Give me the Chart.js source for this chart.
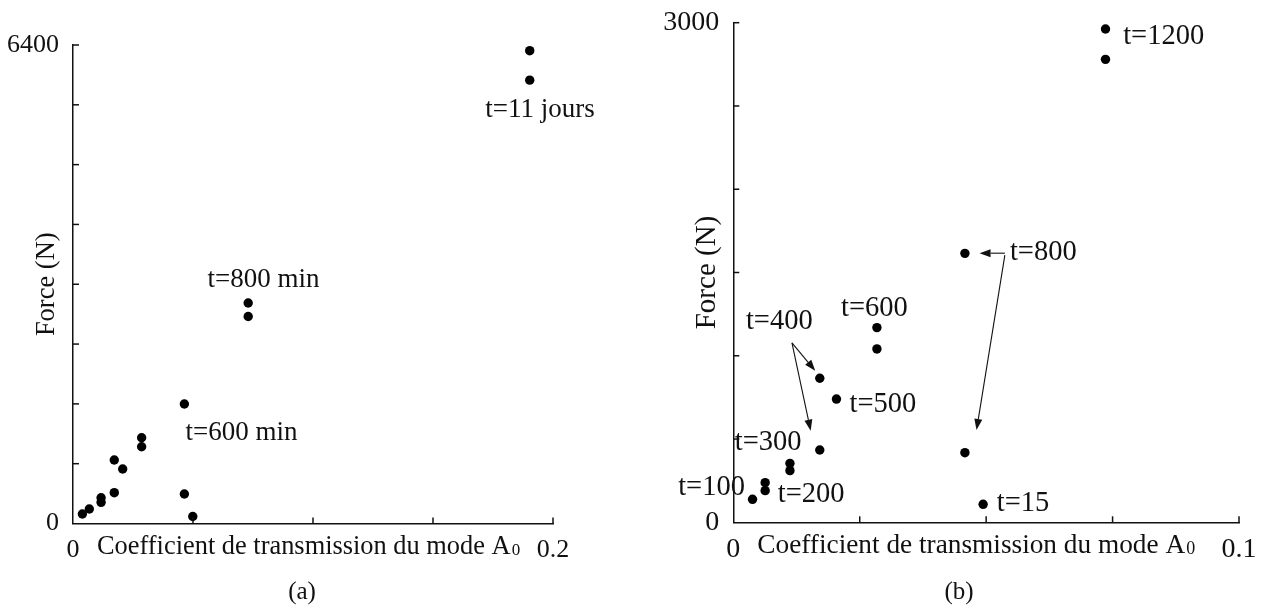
<!DOCTYPE html>
<html><head><meta charset="utf-8">
<script src="https://cdn.jsdelivr.net/npm/chart.js@4.4.1/dist/chart.umd.min.js"></script>
<style>
html,body{margin:0;padding:0;background:#fff;}
#wrap{position:relative;width:1263px;height:609px;overflow:hidden;background:#fff;}
canvas{position:absolute;top:0;}
#ca{left:0;} #cb{left:630px;}
.cap{position:absolute;font-family:'Liberation Serif',serif;font-size:25px;color:#111;width:80px;text-align:center;line-height:30px;top:576px;}
</style></head><body>
<div id="wrap">
<canvas id="ca" width="630" height="609"></canvas>
<canvas id="cb" width="633" height="609"></canvas>
<div class="cap" style="left:262px">(a)</div>
<div class="cap" style="left:919px">(b)</div>
</div>
<script>
// ---------- data: panel (a) ----------
const coefA  = [0.0039, 0.0068, 0.0117, 0.0117, 0.0172, 0.0172, 0.0207, 0.0286, 0.0286, 0.0464, 0.0464, 0.0499, 0.0730, 0.0730, 0.1903, 0.1903];
const forceA = [127, 194, 345, 283, 412, 849, 729, 1147, 1027, 1598, 394, 94, 2949, 2768, 6324, 5930];
const xTickValsA = [0, 0.2];
const xTickLabelsA = ['0', '0.2'];
const yTickValsA = [0, 6400];
const yTickLabelsA = ['0', '6400'];
const notesA = ['t=11 jours', 't=800 min', 't=600 min'];
const notesAtA = [[0.1718, 5535], [0.0560, 3261], [0.0469, 1210]];

// ---------- data: panel (b) ----------
const coefB  = [0.0038, 0.0063, 0.0063, 0.0112, 0.0112, 0.0171, 0.0171, 0.0204, 0.0284, 0.0284, 0.0458, 0.0458, 0.0494, 0.0736, 0.0736];
const forceB = [138, 238, 190, 354, 310, 434, 865, 740, 1169, 1041, 1615, 418, 108, 2962, 2780];
const xTickValsB = [0, 0.1];
const xTickLabelsB = ['0', '0.1'];
const yTickValsB = [0, 3000];
const yTickLabelsB = ['0', '3000'];
const notesB = ['t=1200', 't=800', 't=600', 't=400', 't=500', 't=300', 't=200', 't=100', 't=15'];
const notesAtB = [[0.0771, 2915], [0.0547, 1619], [0.0213, 1281], [0.0025, 1205], [0.0230, 710], [0.0003, 482], [0.0088, 164], [-0.0109, 208], [0.0521, 110]];
// arrows: [fromX, fromY, toX, toY]
const arrowsB = [[0.0537, 1616, 0.0487, 1616], [0.0537, 1604, 0.0481, 554], [0.0116, 1078, 0.0162, 910], [0.0116, 1078, 0.0153, 550]];

const xTitle = 'Coefficient de transmission du mode A';
const xTitleSub = '0';
const yTitle = 'Force (N)';

const FONT = "'Liberation Serif', 'Times New Roman', serif";
const INK = '#111';

const inwardTicks = {
  id: 'inwardTicks',
  afterDraw(chart) {
    const {ctx, chartArea: a} = chart;
    const xs = chart.scales.x, ys = chart.scales.y;
    ctx.save();
    ctx.strokeStyle = INK; ctx.lineWidth = 1.5;
    xs.ticks.forEach(t => {
      if (Math.abs(t.value - xs.min) < 1e-12) return;
      const p = xs.getPixelForValue(t.value);
      ctx.beginPath(); ctx.moveTo(p, a.bottom); ctx.lineTo(p, a.bottom - 6); ctx.stroke();
    });
    ys.ticks.forEach(t => {
      if (Math.abs(t.value - ys.min) < 1e-12) return;
      const p = ys.getPixelForValue(t.value);
      ctx.beginPath(); ctx.moveTo(a.left, p); ctx.lineTo(a.left + 6, p); ctx.stroke();
    });
    ctx.restore();
  }
};

const notesPlugin = {
  id: 'notes',
  afterDraw(chart, args, opts) {
    const {ctx, chartArea: a} = chart;
    const xs = chart.scales.x, ys = chart.scales.y;
    ctx.save();
    ctx.fillStyle = INK; ctx.strokeStyle = INK;
    ctx.font = opts.noteSize + 'px ' + FONT;
    ctx.textAlign = 'left'; ctx.textBaseline = 'middle';
    (opts.texts || []).forEach((txt, i) => {
      const at = opts.at[i];
      ctx.fillText(txt, xs.getPixelForValue(at[0]), ys.getPixelForValue(at[1]));
    });
    ctx.lineWidth = 1.1;
    (opts.arrows || []).forEach(ar => {
      const x1 = xs.getPixelForValue(ar[0]), y1 = ys.getPixelForValue(ar[1]);
      const x2 = xs.getPixelForValue(ar[2]), y2 = ys.getPixelForValue(ar[3]);
      const ang = Math.atan2(y2 - y1, x2 - x1);
      const L = 11, W = 4;
      const bx = x2 - L * Math.cos(ang), by = y2 - L * Math.sin(ang);
      ctx.beginPath(); ctx.moveTo(x1, y1); ctx.lineTo(bx, by); ctx.stroke();
      ctx.beginPath();
      ctx.moveTo(x2, y2);
      ctx.lineTo(bx + W * Math.sin(ang), by - W * Math.cos(ang));
      ctx.lineTo(bx - W * Math.sin(ang), by + W * Math.cos(ang));
      ctx.closePath(); ctx.fill();
    });
    // x axis title on the tick-label line
    const tx = a.left + 24, ty = a.bottom + 24;
    ctx.font = opts.titleSize + 'px ' + FONT;
    ctx.fillText(xTitle, tx, ty);
    const w = ctx.measureText(xTitle).width;
    ctx.font = Math.round(opts.titleSize * 0.66) + 'px ' + FONT;
    ctx.fillText(xTitleSub, tx + w + 1, ty + 3);
    ctx.restore();
  }
};

function makeChart(id, xs, ys, xMax, xStep, yMax, yStep, xVals, xLabs, yVals, yLabs, pad, yW, xH, yTitleCenter, sizes, notes, noteAt, arrows) {
  const pick = (vals, labs) => (v) => {
    const i = vals.findIndex(t => Math.abs(t - v) < 1e-9);
    return i >= 0 ? labs[i] : '';
  };
  const yTitlePad = yTitleCenter - pad.left - sizes.yTitle * 0.6;
  return new Chart(document.getElementById(id), {
    type: 'scatter',
    data: {
      datasets: [{
        data: xs.map((x, i) => ({x: x, y: ys[i]})),
        backgroundColor: '#000', borderWidth: 0, pointRadius: 4.7, pointHoverRadius: 4.7
      }]
    },
    options: {
      responsive: false, animation: false, events: [],
      devicePixelRatio: 1,
      layout: {padding: pad},
      plugins: {
        legend: {display: false}, tooltip: {enabled: false},
        notes: {texts: notes, at: noteAt, arrows: arrows, noteSize: sizes.note, titleSize: sizes.xTitle}
      },
      scales: {
        x: {
          type: 'linear', position: 'bottom', min: 0, max: xMax,
          grid: {display: false, drawTicks: false},
          border: {display: true, color: INK, width: 1.5},
          ticks: {stepSize: xStep, autoSkip: false, maxRotation: 0, minRotation: 0, padding: 11,
                  color: INK, font: {family: FONT, size: sizes.tick}, callback: pick(xVals, xLabs)},
          afterFit: s => { s.height = xH; s.paddingLeft = 0; s.paddingRight = 0; }
        },
        y: {
          type: 'linear', position: 'left', min: 0, max: yMax,
          grid: {display: false, drawTicks: false},
          border: {display: true, color: INK, width: 1.5},
          ticks: {stepSize: yStep, autoSkip: false, padding: 14,
                  color: INK, font: {family: FONT, size: sizes.tick}, callback: pick(yVals, yLabs)},
          title: {display: true, text: yTitle, color: INK, font: {family: FONT, size: sizes.yTitle, lineHeight: 1.2},
                  padding: {top: yTitlePad, bottom: 0}},
          afterFit: s => { s.width = yW; s.paddingTop = 0; s.paddingBottom = 0; }
        }
      }
    },
    plugins: [inwardTicks, notesPlugin]
  });
}

makeChart('ca', coefA, forceA, 0.2, 0.05, 6400, 800, xTickValsA, xTickLabelsA, yTickValsA, yTickLabelsA,
  {top: 45, right: 77, bottom: 0, left: 0}, 73, 85.5, 47,
  {tick: 26, note: 27, xTitle: 26.4, yTitle: 26.5}, notesA, notesAtA, []);
makeChart('cb', coefB, forceB, 0.1, 0.025, 3000, 500, xTickValsB, xTickLabelsB, yTickValsB, yTickLabelsB,
  {top: 22.7, right: 24, bottom: 0, left: 0}, 103.3, 86.7, 77,
  {tick: 28, note: 28.5, xTitle: 27.3, yTitle: 29}, notesB, notesAtB, arrowsB);
</script>
</body></html>
